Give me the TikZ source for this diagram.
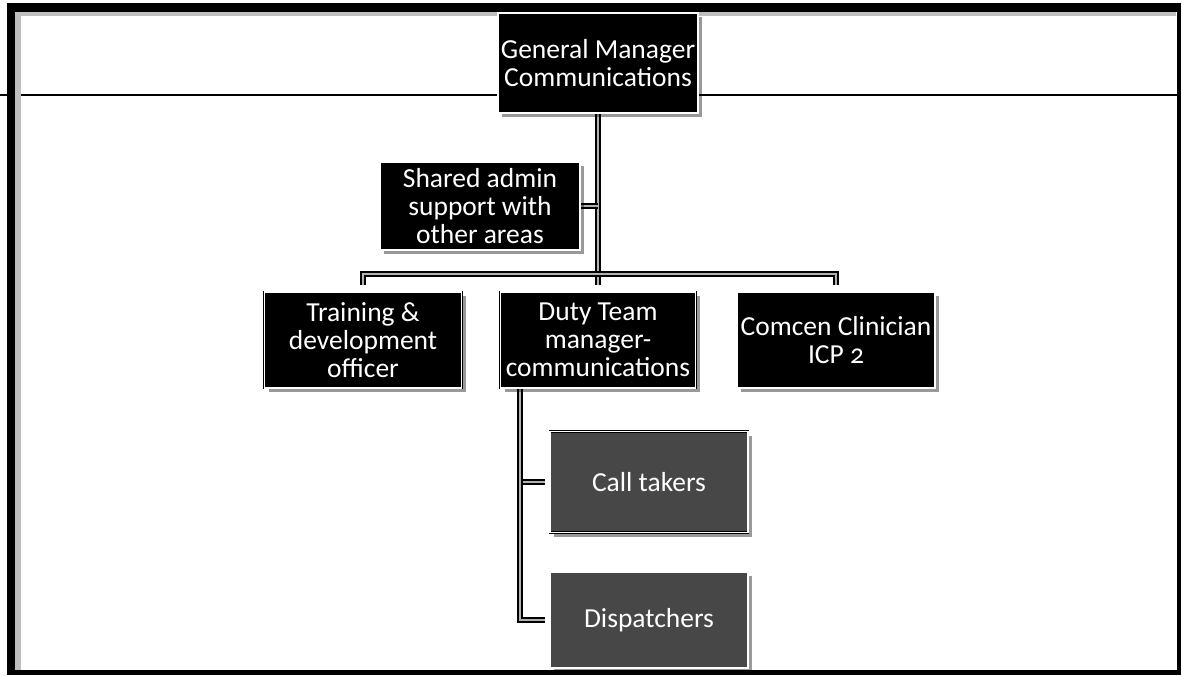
\documentclass[tikz,border=0pt]{standalone}
\usepackage{fontspec}
\setmainfont{Carlito}[Numbers=OldStyle]
\usetikzlibrary{calc,shadows,backgrounds}
\begin{document}
\begin{tikzpicture}[x=1pt,y=-1pt,
  orgbox/.style={draw=black, line width=0.8pt, double=white, double distance=1.2pt,
    fill=black, text=white, align=center, inner sep=0pt,
    font=\fontsize{27.5}{28}\selectfont,
    drop shadow={shadow xshift=4pt, shadow yshift=-4pt, fill=black, opacity=0.4}},
  staffbox/.style={orgbox, fill=black!72},
  link/.style={draw=black, line width=2pt, double=gray!60, double distance=2.6pt},
  rule/.style={line width=1.4pt}]
\useasboundingbox (0,0) rectangle (1183,675);

% horizontal rule across the page
\draw[rule] (0,95) -- (1177,95);

% page frame
\fill[gray!50] (15,12) rectangle (21,670);
\fill[gray!50] (15,12) rectangle (1176,16);
\fill[black] (7,3) rectangle (15,675);
\fill[black] (7,3) rectangle (1181,12);
\fill[black] (1177,3) rectangle (1181,675);
\fill[black] (7,670) rectangle (1181,675);

% boxes
\node[orgbox, minimum width=200pt, minimum height=100pt] (gm) at (598,63)
  {General Manager\\Communications};
\node[orgbox, minimum width=200pt, minimum height=88pt] (admin) at (480,206)
  {Shared admin\\support with\\other areas};
\node[orgbox, minimum width=197pt, minimum height=96pt] (train) at (363,340)
  {Training \&\\development\\officer};
\node[orgbox, minimum width=195pt, minimum height=96pt] (duty) at (598,340)
  {Duty Team\\manager-\\communications};
\node[orgbox, minimum width=198pt, minimum height=96pt] (comcen) at (836,340)
  {Comcen Clinician\\ICP 2};
\node[staffbox, minimum width=198pt, minimum height=101pt] (calls) at (649,482)
  {Call takers};
\node[staffbox, minimum width=198pt, minimum height=96pt] (disp) at (649,620)
  {Dispatchers};

% connectors
\begin{scope}[on background layer]
  \coordinate (bus) at (598,274);
  \draw[link] (gm.south) -- ($(duty.north)+(0,-7)$);
  \draw[link] (admin.east) -- (admin.east -| gm.south);
  \draw[link] ($(train.north)+(0,-7)$) |- (bus) -| ($(comcen.north)+(0,-7)$);
  \coordinate (hang) at ($(duty.south west)+(20,0)$);
  \draw[link] (hang) |- ($(calls.west)+(-5,0)$);
  \draw[link] (hang) |- ($(disp.west)+(-5,0)$);
\end{scope}
\end{tikzpicture}
\end{document}
